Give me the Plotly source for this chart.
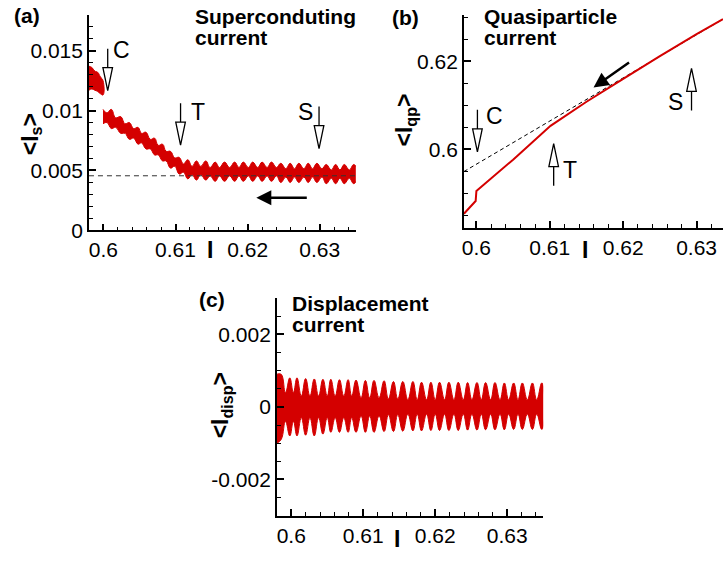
import plotly.graph_objects as go

RED = "#d40000"
FONT = "Liberation Sans, Arial, Helvetica, sans-serif"
W, H = 723, 563

# ---------------- (a) superconducting current ----------------
a_pre_I    = [0.5980, 0.5984, 0.5988, 0.5992, 0.5996, 0.59995]
a_pre_mid  = [0.0127, 0.0127, 0.0125, 0.0124, 0.0121, 0.0119]
a_pre_half = [0.0010, 0.0009, 0.0008, 0.0008, 0.0007, 0.0006]

a_I = [0.59995, 0.6005, 0.6011, 0.6017, 0.6024, 0.6030, 0.6036, 0.6042, 0.6048, 0.6053,
       0.6059, 0.6065, 0.6071, 0.6076, 0.6082, 0.6087, 0.6093, 0.6099, 0.6105, 0.6111,
       0.6117, 0.6123, 0.6129, 0.6135, 0.6142, 0.6148, 0.6155, 0.6161, 0.6168, 0.6175,
       0.6182, 0.6188, 0.6194, 0.6201, 0.6207, 0.6214, 0.6220, 0.6227, 0.6233, 0.6240,
       0.6246, 0.6253, 0.6259, 0.6265, 0.6271, 0.6278, 0.6284, 0.6290, 0.6296, 0.6303,
       0.6309, 0.6316, 0.6322, 0.6328, 0.6334, 0.6341, 0.6347, 0.6352]
a_mid = [0.0095, 0.0094, 0.0093, 0.0090, 0.0088, 0.0085, 0.0083, 0.0081, 0.0079, 0.0077,
         0.0075, 0.0072, 0.0070, 0.0067, 0.0065, 0.0062, 0.0059, 0.0057, 0.0054, 0.0052,
         0.0051, 0.0050, 0.0050, 0.0050, 0.0050, 0.0049, 0.0049, 0.0049, 0.0049, 0.0049,
         0.0049, 0.0049, 0.0049, 0.0049, 0.0049, 0.0049, 0.0049, 0.0049, 0.0049, 0.0049,
         0.0048, 0.0048, 0.0048, 0.0048, 0.0048, 0.0048, 0.0048, 0.0048, 0.0048, 0.0048,
         0.0047, 0.0047, 0.0047, 0.0047, 0.0047, 0.0047, 0.0047, 0.0047]
a_half = [0.0006, 0.0004, 0.0008, 0.0004, 0.0007, 0.0004, 0.0007, 0.0004, 0.0007, 0.0004,
          0.0007, 0.0004, 0.0007, 0.0004, 0.0007, 0.0004, 0.0007, 0.00035, 0.0007, 0.00035,
          0.0008, 0.00035, 0.0008, 0.00035, 0.0008, 0.00035, 0.0008, 0.00035, 0.0008, 0.00035,
          0.0008, 0.00035, 0.0008, 0.00035, 0.0008, 0.00035, 0.0008, 0.00035, 0.0008, 0.00035,
          0.0008, 0.00035, 0.0008, 0.00035, 0.0008, 0.00035, 0.0008, 0.00035, 0.0008, 0.00035,
          0.0008, 0.00035, 0.0008, 0.00035, 0.0008, 0.00035, 0.0008, 0.0004]
a_ref_I = [0.598, 0.635]
a_ref_val = [0.00456, 0.00456]

# ---------------- (b) quasiparticle current ----------------
b_I  = [0.5983, 0.5999, 0.6000, 0.6050, 0.6101, 0.6150, 0.6200, 0.6250, 0.6300, 0.6336]
b_qp = [0.5853, 0.5882, 0.5905, 0.5976, 0.6053, 0.6108, 0.6160, 0.6212, 0.6262, 0.6296]
b_ref_I  = [0.5983, 0.6336]
b_ref_qp = [0.5949, 0.6296]

# ---------------- (c) displacement current ----------------
c_I = [0.5980, 0.5986, 0.5992, 0.5998, 0.6003, 0.6008, 0.6014, 0.6020, 0.6026, 0.6032,
       0.6038, 0.6044, 0.6050, 0.6055, 0.6061, 0.6067, 0.6073, 0.6079, 0.6084, 0.6090,
       0.6097, 0.6103, 0.6109, 0.6115, 0.6122, 0.6129, 0.6135, 0.6142, 0.6148, 0.6155,
       0.6162, 0.6169, 0.6175, 0.6181, 0.6188, 0.6194, 0.6200, 0.6206, 0.6213, 0.6219,
       0.6226, 0.6232, 0.6239, 0.6245, 0.6251, 0.6258, 0.6264, 0.6270, 0.6277, 0.6283,
       0.6290, 0.6296, 0.6302, 0.6309, 0.6315, 0.6321, 0.6328, 0.6335, 0.6341, 0.6348,
       0.6352]
c_top = [0.0009, 0.0009, 0.0004, 0.0008, 0.0004, 0.0008, 0.0003, 0.00078, 0.0003, 0.00077,
         0.0003, 0.00076, 0.0003, 0.00076, 0.0003, 0.00075, 0.0003, 0.00075, 0.0003, 0.00074,
         0.00025, 0.00073, 0.00025, 0.00073, 0.00025, 0.00072, 0.00022, 0.0007, 0.00022, 0.0007,
         0.0002, 0.0007, 0.0002, 0.00068, 0.0002, 0.00068, 0.0002, 0.00068, 0.0002, 0.00068,
         0.0002, 0.00068, 0.0002, 0.00067, 0.0002, 0.00067, 0.0002, 0.00067, 0.0002, 0.00067,
         0.0002, 0.00066, 0.0002, 0.00066, 0.0002, 0.00066, 0.0002, 0.00066, 0.0002, 0.00066,
         0.0003]
c_bot = [-0.0010, -0.0009, -0.0004, -0.0008, -0.0004, -0.0008, -0.0003, -0.00078, -0.0003, -0.0008,
         -0.0003, -0.00075, -0.0003, -0.0007, -0.0003, -0.0007, -0.0003, -0.0007, -0.0003, -0.0007,
         -0.00025, -0.0007, -0.00025, -0.0007, -0.00025, -0.00068, -0.00022, -0.00068, -0.00022, -0.00067,
         -0.0002, -0.00066, -0.0002, -0.00066, -0.0002, -0.00065, -0.0002, -0.00065, -0.0002, -0.00065,
         -0.0002, -0.00065, -0.0002, -0.00064, -0.0002, -0.00064, -0.0002, -0.00063, -0.0002, -0.00063,
         -0.0002, -0.00063, -0.0002, -0.00062, -0.0002, -0.00062, -0.0002, -0.00062, -0.0002, -0.00062,
         -0.0003]

# ---------------- ticks ----------------
x_tickvals = [0.6, 0.61, 0.62, 0.63]
x_ticktext = ["0.6", "0.61", "0.62", "0.63"]
a_ytickvals = [0, 0.005, 0.01, 0.015]
a_yticktext = ["0", "0.005", "0.01", "0.015"]
b_ytickvals = [0.6, 0.62]
b_yticktext = ["0.6", "0.62"]
c_ytickvals = [-0.002, 0, 0.002]
c_yticktext = ["-0.002", "0", "0.002"]

# markers C, T, S: (xaxis, yaxis, label, I, value at arrow tip, direction, text dx, text dy)
marks = [
    ("x", "y", "C", 0.6006, 0.01166, "down", 14, 41),
    ("x", "y", "T", 0.6107, 0.00711, "down", 17, 33),
    ("x", "y", "S", 0.6299, 0.00683, "down", -14, 37),
    ("x2", "y2", "C", 0.60014, 0.5994, "down", 17, 36),
    ("x2", "y2", "T", 0.61053, 0.60125, "up", 16, -26),
    ("x2", "y2", "S", 0.62931, 0.61837, "up", -16, -34),
]


def band(xs, mid, half=None, top=None, bot=None):
    if top is None:
        top = [m + h for m, h in zip(mid, half)]
        bot = [m - h for m, h in zip(mid, half)]
    return list(xs) + list(xs)[::-1], list(top) + list(bot)[::-1]


fig = go.Figure()
band_line = dict(color=RED, width=1, shape="spline", smoothing=1.3)

# (a)
px_, py_ = band(a_pre_I, a_pre_mid, a_pre_half)
fig.add_trace(go.Scatter(x=px_, y=py_, fill="toself", fillcolor=RED, mode="lines",
                         line=band_line, xaxis="x", yaxis="y", hoverinfo="skip"))
px_, py_ = band(a_I, a_mid, a_half)
fig.add_trace(go.Scatter(x=px_, y=py_, fill="toself", fillcolor=RED, mode="lines",
                         line=band_line, xaxis="x", yaxis="y", hoverinfo="skip"))
fig.add_trace(go.Scatter(x=a_ref_I, y=a_ref_val, mode="lines",
                         line=dict(color="#333333", width=1, dash="5px,4px"),
                         xaxis="x", yaxis="y"))

# (b)
fig.add_trace(go.Scatter(x=b_ref_I, y=b_ref_qp, mode="lines",
                         line=dict(color="black", width=1, dash="4px,3px"),
                         xaxis="x2", yaxis="y2"))
fig.add_trace(go.Scatter(x=b_I, y=b_qp, mode="lines",
                         line=dict(color=RED, width=2),
                         xaxis="x2", yaxis="y2"))

# (c)
px_, py_ = band(c_I, None, top=c_top, bot=c_bot)
fig.add_trace(go.Scatter(x=px_, y=py_, fill="toself", fillcolor=RED, mode="lines",
                         line=band_line, xaxis="x3", yaxis="y3", hoverinfo="skip"))


def ax_style(**kw):
    d = dict(showline=True, linecolor="black", linewidth=1.6, mirror=False,
             ticks="inside", ticklen=7, tickwidth=1.5, tickcolor="black",
             showgrid=False, zeroline=False,
             tickfont=dict(family=FONT, size=21, color="black"))
    d.update(kw)
    return d


def minor(dt):
    return dict(tickmode="linear", tick0=0, dtick=dt, ticks="inside", ticklen=4,
                tickwidth=1, tickcolor="black", showgrid=False)


def pxx(x):
    return x / W


def pyy(y):
    return 1 - y / H


fig.update_layout(
    width=W, height=H, margin=dict(l=0, r=0, t=0, b=0),
    paper_bgcolor="white", plot_bgcolor="rgba(0,0,0,0)", showlegend=False,
    font=dict(family=FONT, color="black"),
    xaxis=ax_style(domain=[pxx(87.2), pxx(354.8)], range=[0.598, 0.635], anchor="y",
                   tickmode="array", tickvals=x_tickvals, ticktext=x_ticktext, minor=minor(0.002)),
    yaxis=ax_style(domain=[pyy(235), pyy(15)], range=[0, 0.018], anchor="x",
                   tickmode="array", tickvals=a_ytickvals, ticktext=a_yticktext, minor=minor(0.001)),
    xaxis2=ax_style(domain=[pxx(463.2), 1.0], range=[0.5983, 0.6336], anchor="y2",
                    tickmode="array", tickvals=x_tickvals, ticktext=x_ticktext, minor=minor(0.002)),
    yaxis2=ax_style(domain=[pyy(232.3), pyy(15.5)], range=[0.5821, 0.6305], anchor="x2",
                    tickmode="array", tickvals=b_ytickvals, ticktext=b_yticktext, minor=minor(0.005)),
    xaxis3=ax_style(domain=[pxx(275.6), pxx(542.7)], range=[0.598, 0.635], anchor="y3",
                    tickmode="array", tickvals=x_tickvals, ticktext=x_ticktext, minor=minor(0.002)),
    yaxis3=ax_style(domain=[pyy(526), pyy(304)], range=[-0.003, 0.003], anchor="x3",
                    tickmode="array", tickvals=c_ytickvals, ticktext=c_yticktext, minor=minor(0.0005)),
)

ann = []


def text(x, y, s, size=20, bold=False, xanchor="left", angle=0):
    ann.append(dict(xref="paper", yref="paper", x=pxx(x), y=pyy(y),
                    text=("<b>%s</b>" % s) if bold else s, showarrow=False,
                    xanchor=xanchor, yanchor="middle", textangle=angle,
                    font=dict(family=FONT, size=size, color="black")))


# panel labels and titles
text(25, 16, "(a)", 21, True, "center")
text(192, 17, "Superconduting", 21, True)
text(192, 38, "current", 21, True)
text(405, 17.5, "(b)", 21, True, "center")
text(481, 17, "Quasiparticle", 21, True)
text(481, 38, "current", 21, True)
text(210.5, 305.5, "(c)", 21, True, "center")
text(289, 309.5, "Displacement", 21, True)
text(289, 330.5, "current", 21, True)

# axis titles
text(29, 137, "&lt;I<sub>s</sub>&gt;", 23, True, "center", -90)
text(405, 122, "&lt;I<sub>qp</sub>&gt;", 23, True, "center", -90)
text(221, 413, "&lt;I<sub>disp</sub>&gt;", 23, True, "center", -90)
text(208.5, 255, "I", 23, True, "center")
text(584.7, 255, "I", 23, True, "center")
text(396, 549.5, "I", 23, True, "center")

# filled direction arrows
ann.append(dict(xref="x", yref="y", x=0.6212, y=0.00273, ax=52, ay=0, text="",
                showarrow=True, arrowhead=2, arrowsize=1.2, arrowwidth=2.5, arrowcolor="black"))
ann.append(dict(xref="x2", yref="y2", x=0.61596, y=0.61406, ax=37, ay=-26, text="",
                showarrow=True, arrowhead=2, arrowsize=1.2, arrowwidth=2.5, arrowcolor="black"))

shapes = []
for xr, yr, lab, xv, yv, d, dx, dy in marks:
    s = 1 if d == "down" else -1
    path = "M 0,0 L -4.8,%g L 4.8,%g Z M 0,%g L 0,%g" % (23 * s, 23 * s, 23 * s, 42 * s)
    shapes.append(dict(type="path", xref=xr, yref=yr, xsizemode="pixel", ysizemode="pixel",
                       xanchor=xv, yanchor=yv, path=path, fillcolor="white",
                       line=dict(color="black", width=1.3), layer="above"))
    ann.append(dict(xref=xr, yref=yr, x=xv, y=yv, xshift=dx, yshift=dy, text=lab,
                    showarrow=False, xanchor="center", yanchor="middle",
                    font=dict(family=FONT, size=23, color="black")))

fig.update_layout(annotations=ann, shapes=shapes)
fig.write_html("out.html")
